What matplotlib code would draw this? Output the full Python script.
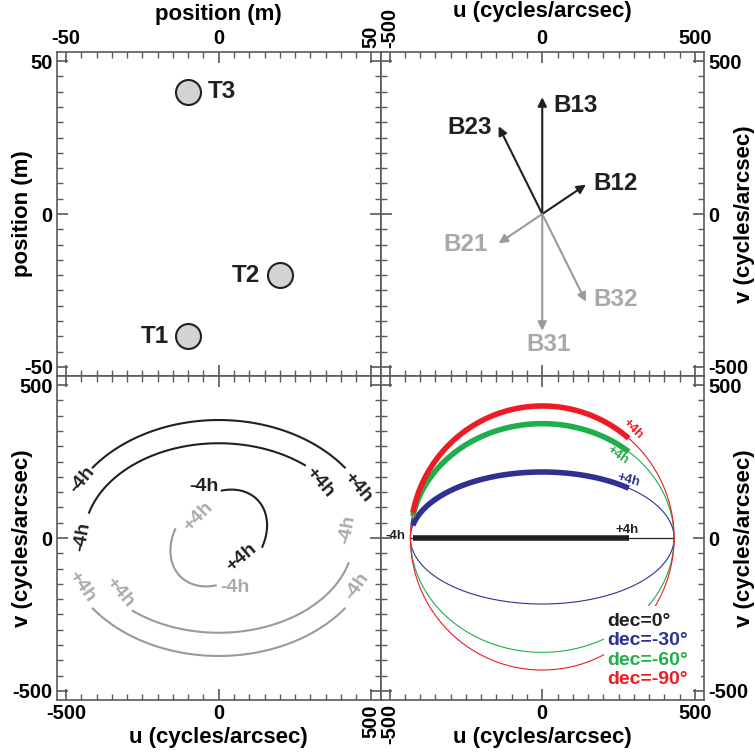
import numpy as np
import matplotlib
matplotlib.use("Agg")
import matplotlib.pyplot as plt
from matplotlib.ticker import MultipleLocator
from matplotlib.patches import Rectangle

plt.rcParams['font.family'] = ['Liberation Sans', 'DejaVu Sans']
plt.rcParams['font.weight'] = 'bold'
plt.rcParams['axes.labelweight'] = 'bold'

# ---------------- data ----------------
tel_names = ['T1', 'T2', 'T3']
tel_x = [-10, 20, -10]
tel_y = [-40, -20, 40]

bl_names = ['B12', 'B13', 'B23']
conj_names = ['B21', 'B31', 'B32']
bl_u = [143, 0, -143]
bl_v = [96, 382, 287]

# uv tracks (bottom-left): ellipse semi-axes, rotation (deg), param range (deg)
trk_names = ['B13', 'B23', 'B12']
trk_a = [515, 441, 178]
trk_b = [386, 310, 136]
trk_rot = [0, 0, 45.0]
trk_t0 = [143.3, 164.5, 49.0]
trk_t1 = [36.7, 50.2, -63.0]

# east-west baseline tracks (bottom-right)
dec_deg = [0, -30, -60, -90]
dec_labels = ['dec=0°', 'dec=-30°', 'dec=-60°', 'dec=-90°']
dec_colors = ['#231f20', '#2e3192', '#1fae4b', '#ed1c24']
ew_len = 432
ha_hours = [-4, 4]
ha_phase0 = 109.0   # deg at hour angle 0
ha_rate = 15.0      # deg per hour

BLACK = '#231f20'
GRAY = '#999a9c'
LGRAY = '#a7a9ac'

fig = plt.figure(figsize=(7.55, 7.54), dpi=100)
gs = fig.add_gridspec(2, 2, left=57/755, right=704/755, top=1-52/754, bottom=1-700/754,
                      wspace=0, hspace=0)
ax_tl = fig.add_subplot(gs[0, 0])
ax_tr = fig.add_subplot(gs[0, 1])
ax_bl = fig.add_subplot(gs[1, 0])
ax_br = fig.add_subplot(gs[1, 1])

TICK_FS = 14.5
LAB_FS = 16
NAME_FS = 17.5


def style(ax, lim, major, minor):
    ax.set_xlim(-lim, lim)
    ax.set_ylim(-lim, lim)
    ax.xaxis.set_minor_locator(MultipleLocator(minor))
    ax.yaxis.set_minor_locator(MultipleLocator(minor))
    ax.set_xticks([-major, 0, major])
    ax.set_yticks([-major, 0, major])
    ax.tick_params(which='both', direction='in', top=True, bottom=True, left=True, right=True,
                   color='#58595b', labelsize=TICK_FS, pad=3,
                   labelbottom=False, labeltop=False, labelleft=False, labelright=False)
    ax.tick_params(which='major', length=8, width=1.2)
    ax.tick_params(which='minor', length=4, width=1.0)
    for s in ax.spines.values():
        s.set_color('#58595b')
        s.set_linewidth(1.2)


style(ax_tl, 53, 50, 5)
style(ax_tr, 530, 500, 50)
style(ax_bl, 530, 500, 50)
style(ax_br, 530, 500, 50)

# tick label positions
ax_tl.tick_params(labeltop=True, labelleft=True)
ax_tr.tick_params(labeltop=True, labelright=True)
ax_bl.tick_params(labelbottom=True, labelleft=True)
ax_br.tick_params(labelbottom=True, labelright=True)

ax_tl.set_xticklabels(['-50', '0', '50'])
ax_tl.set_yticklabels(['-50', '0', '50'])
ax_tl.get_xticklabels()[2].set_rotation(90)
for ax in (ax_tr, ax_bl, ax_br):
    ax.set_xticklabels(['-500', '0', '500'])
    ax.set_yticklabels(['-500', '0', '500'])
ax_tr.get_xticklabels()[0].set_rotation(90)
ax_bl.get_xticklabels()[2].set_rotation(90)
ax_br.get_xticklabels()[0].set_rotation(90)
for lab in ax_tl.get_xticklabels() + ax_tr.get_xticklabels():
    lab.set_va('bottom')
for lab in ax_bl.get_xticklabels() + ax_br.get_xticklabels():
    lab.set_va('top')

# axis labels
ax_tl.xaxis.set_label_position('top')
ax_tl.set_xlabel('position (m)', fontsize=LAB_FS)
ax_tl.xaxis.set_label_coords(0.5, 1.098)
ax_tl.set_ylabel('position (m)', fontsize=LAB_FS, va='center')
ax_tl.yaxis.set_label_coords(-0.108, 0.5)

ax_tr.xaxis.set_label_position('top')
ax_tr.set_xlabel('u (cycles/arcsec)', fontsize=LAB_FS)
ax_tr.xaxis.set_label_coords(0.5, 1.108)
ax_tr.yaxis.set_label_position('right')
ax_tr.set_ylabel('v (cycles/arcsec)', fontsize=LAB_FS, va='center', rotation=90)
ax_tr.yaxis.set_label_coords(1.125, 0.5)

ax_bl.set_xlabel('u (cycles/arcsec)', fontsize=LAB_FS, va='center')
ax_bl.xaxis.set_label_coords(0.5, -0.115)
ax_bl.set_ylabel('v (cycles/arcsec)', fontsize=LAB_FS, va='center')
ax_bl.yaxis.set_label_coords(-0.108, 0.5)

ax_br.set_xlabel('u (cycles/arcsec)', fontsize=LAB_FS, va='center')
ax_br.xaxis.set_label_coords(0.5, -0.115)
ax_br.yaxis.set_label_position('right')
ax_br.set_ylabel('v (cycles/arcsec)', fontsize=LAB_FS, va='center', rotation=90)
ax_br.yaxis.set_label_coords(1.125, 0.5)

# ---------------- top-left: telescope positions ----------------
ax_tl.plot(tel_x, tel_y, 'o', ms=18, mfc='#d1d3d4', mec=BLACK, mew=1.5, ls='none')
tel_offsets = [(-6.5, 0, 'right'), (-6.5, 0, 'right'), (6.5, 0, 'left')]
for name, x, y, (dx, dy, ha) in zip(tel_names, tel_x, tel_y, tel_offsets):
    ax_tl.text(x + dx, y + dy, name, fontsize=NAME_FS, ha=ha, va='center', color=BLACK)

# ---------------- top-right: baselines ----------------
lab_pos = {'B12': (167, 101, 'left'), 'B13': (36, 356, 'left'), 'B23': (-164, 284, 'right'),
           'B21': (-177, -101, 'right'), 'B31': (20, -428, 'center'), 'B32': (167, -281, 'left')}
for name, cname, u, v in zip(bl_names, conj_names, bl_u, bl_v):
    ax_tr.annotate('', xy=(u, v), xytext=(0, 0),
                   arrowprops=dict(arrowstyle='-|>', color=BLACK, lw=1.5, mutation_scale=13,
                                   shrinkA=0, shrinkB=0))
    ax_tr.annotate('', xy=(-u, -v), xytext=(0, 0),
                   arrowprops=dict(arrowstyle='-|>', color=GRAY, lw=1.5, mutation_scale=13,
                                   shrinkA=0, shrinkB=0))
    px, py, ha = lab_pos[name]
    ax_tr.text(px, py, name, fontsize=NAME_FS, ha=ha, va='center', color=BLACK)
    px, py, ha = lab_pos[cname]
    ax_tr.text(px, py, cname, fontsize=NAME_FS, ha=ha, va='center', color=LGRAY)

# ---------------- bottom-left: uv tracks ----------------
for a, b, rot, t0, t1 in zip(trk_a, trk_b, trk_rot, trk_t0, trk_t1):
    t = np.radians(np.linspace(t0, t1, 300))
    r = np.radians(rot)
    x = a * np.cos(t)
    y = b * np.sin(t)
    u = x * np.cos(r) - y * np.sin(r)
    v = x * np.sin(r) + y * np.cos(r)
    ax_bl.plot(u, v, color=BLACK, lw=1.5)
    ax_bl.plot(-u, -v, color=GRAY, lw=1.5)

bl_texts = [
    (-446, 191, '-4h', 50, BLACK), (456, 165, '+4h', -50, BLACK),
    (331, 181, '+4h', -50, BLACK), (-446, 5, '-4h', 80, BLACK),
    (-49, 168, '-4h', 0, BLACK), (75, -64, '+4h', 40, BLACK),
    (-69, 70, '+4h', 45, LGRAY), (52, -162, '-4h', 0, LGRAY),
    (-449, -158, '+4h', -55, LGRAY), (-325, -178, '+4h', -50, LGRAY),
    (452, -158, '-4h', 55, LGRAY), (423, 28, '-4h', 80, LGRAY),
]
for x, y, s, rot, c in bl_texts:
    ax_bl.text(x, y, s, fontsize=14, ha='center', va='center', rotation=rot, color=c,
               rotation_mode='anchor')

# ---------------- bottom-right: declination tracks ----------------
for d, c in zip(dec_deg, dec_colors):
    sd = np.sin(np.radians(-d))
    tf = np.radians(np.linspace(0, 360, 721))
    ax_br.plot(ew_len * np.cos(tf), ew_len * np.sin(tf) * sd, color=c, lw=0.8, zorder=2)
    h = np.linspace(ha_hours[0], ha_hours[1], 200)
    tt = np.radians(ha_phase0 - ha_rate * h)
    ax_br.plot(ew_len * np.cos(tt), ew_len * np.sin(tt) * sd, color=c, lw=4, zorder=3,
               solid_capstyle='butt')

ax_br.add_patch(Rectangle((0.69, 0.035), 0.3, 0.255, transform=ax_br.transAxes,
                          facecolor='white', edgecolor='none', zorder=4))
for i, (lab, c) in enumerate(zip(dec_labels, dec_colors)):
    ax_br.text(0.70, 0.243 - i * 0.06, lab, transform=ax_br.transAxes, fontsize=14,
               color=c, ha='left', va='center', zorder=5)

br_texts = [(-482, 5, '-4h', 0, dec_colors[0]), (279, 25, '+4h', 0, dec_colors[0]),
            (282, 188, '+4h', -15, dec_colors[1]), (249, 270, '+4h', -35, dec_colors[2]),
            (298, 355, '+4h', -45, dec_colors[3])]
for x, y, s, rot, c in br_texts:
    ax_br.text(x, y, s, fontsize=9.5, ha='center', va='center', rotation=rot, color=c,
               rotation_mode='anchor', zorder=5)

fig.savefig('out.png', dpi=100)
